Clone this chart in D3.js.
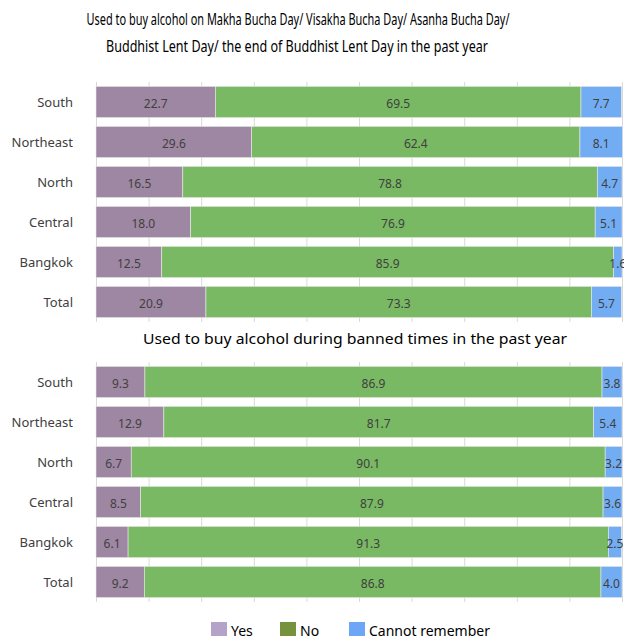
<!DOCTYPE html>
<html>
<head>
<meta charset="utf-8">
<script src="https://cdn.jsdelivr.net/npm/d3@7"></script>
<style>
  body { margin: 0; background: #fff; }
  text { font-family: "Noto Sans", "Open Sans", sans-serif; }
</style>
</head>
<body>
<div id="chartDiv"></div>
<script>
//----------------------------------------------------------------------------------------------------
// data
var regions = ["South", "Northeast", "North", "Central", "Bangkok", "Total"];
var seriesNames = ["Yes", "No", "Cannot remember"];

var holyDayYes    = [22.7, 29.6, 16.5, 18.0, 12.5, 20.9];
var holyDayNo     = [69.5, 62.4, 78.8, 76.9, 85.9, 73.3];
var holyDayCannot = [ 7.7,  8.1,  4.7,  5.1,  1.6,  5.7];

var bannedYes     = [ 9.3, 12.9,  6.7,  8.5,  6.1,  9.2];
var bannedNo      = [86.9, 81.7, 90.1, 87.9, 91.3, 86.8];
var bannedCannot  = [ 3.8,  5.4,  3.2,  3.6,  2.5,  4.0];

var xTicks = [0, 10, 20, 30, 40, 50, 60, 70, 80, 90, 100];

var barColors    = ["#9e87a2", "#79b963", "#72adf4"];
var legendColors = ["#b4a2c9", "#76923c", "#6ea6f7"];

//----------------------------------------------------------------------------------------------------
var width = 624, height = 636;
var svg = d3.select("#chartDiv").append("svg")
    .attr("width", width)
    .attr("height", height);

var xScale = d3.scaleLinear().domain([0, 100]).range([96, 622]);

//----------------------------------------------------------------------------------------------------
function buildRows(yes, no, cannot)
{
   return regions.map(function(r, i){
      return {region: r, values: [yes[i], no[i], cannot[i]]};
      });

} // buildRows
//----------------------------------------------------------------------------------------------------
function drawPanel(rows, top, bottom)
{
   var yScale = d3.scaleBand()
       .domain(regions)
       .range([top, bottom])
       .paddingInner(0.22)
       .paddingOuter(0.11);

   var g = svg.append("g");

      // vertical gridlines
   g.selectAll("line.grid")
      .data(xTicks)
      .enter()
      .append("line")
      .attr("class", "grid")
      .attr("x1", function(d){ return xScale(d) + 0.5; })
      .attr("x2", function(d){ return xScale(d) + 0.5; })
      .attr("y1", top)
      .attr("y2", bottom)
      .attr("stroke", "#d9d9d9")
      .attr("stroke-width", 1);

   var row = g.selectAll("g.row")
      .data(rows)
      .enter()
      .append("g")
      .attr("class", "row");

   row.each(function(d){
      var cum = 0;
      var segs = d.values.map(function(v, k){
         var s = {start: cum, value: v, k: k};
         cum += v;
         return s;
         });
      var rg = d3.select(this);
      var y0 = yScale(d.region);
      var bh = yScale.bandwidth();

      rg.selectAll("rect")
        .data(segs)
        .enter()
        .append("rect")
        .attr("x", function(s){ return xScale(s.start); })
        .attr("width", function(s){ return xScale(s.start + s.value) - xScale(s.start); })
        .attr("y", y0)
        .attr("height", bh)
        .attr("fill", function(s){ return barColors[s.k]; })
        .attr("stroke", "#e8e8e8")
        .attr("stroke-width", 0.6);

      rg.selectAll("text.val")
        .data(segs)
        .enter()
        .append("text")
        .attr("class", "val")
        .attr("x", function(s){ return xScale(s.start + s.value / 2); })
        .attr("y", y0 + bh / 2 + 6)
        .attr("text-anchor", "middle")
        .attr("font-size", 12)
        .attr("fill", "#404040")
        .text(function(s){ return s.value.toFixed(1); });
      });

      // category labels
   g.selectAll("text.cat")
      .data(regions)
      .enter()
      .append("text")
      .attr("class", "cat")
      .attr("x", 73)
      .attr("y", function(d){ return yScale(d) + yScale.bandwidth() / 2 + 5; })
      .attr("text-anchor", "end")
      .attr("font-size", 13)
      .attr("fill", "#404040")
      .text(function(d){ return d; });

} // drawPanel
//----------------------------------------------------------------------------------------------------
// titles
svg.append("text")
   .attr("x", 298).attr("y", 25)
   .attr("text-anchor", "middle")
   .attr("font-size", 16)
   .attr("textLength", 423)
   .attr("lengthAdjust", "spacingAndGlyphs")
   .attr("fill", "#000")
   .text("Used to buy alcohol on Makha Bucha Day/ Visakha Bucha Day/ Asanha Bucha Day/");

svg.append("text")
   .attr("x", 297).attr("y", 52)
   .attr("text-anchor", "middle")
   .attr("font-size", 15.5)
   .attr("textLength", 382)
   .attr("lengthAdjust", "spacingAndGlyphs")
   .attr("fill", "#000")
   .text("Buddhist Lent Day/ the end of Buddhist Lent Day in the past year");

drawPanel(buildRows(holyDayYes, holyDayNo, holyDayCannot), 82, 322);

svg.append("text")
   .attr("x", 355).attr("y", 344)
   .attr("text-anchor", "middle")
   .attr("font-size", 15)
   .attr("textLength", 424)
   .attr("lengthAdjust", "spacingAndGlyphs")
   .attr("fill", "#000")
   .text("Used to buy alcohol during banned times in the past year");

drawPanel(buildRows(bannedYes, bannedNo, bannedCannot), 362, 602);

//----------------------------------------------------------------------------------------------------
// legend
var legendX = [211, 280, 349];
var legend = svg.selectAll("g.legend")
   .data(seriesNames)
   .enter()
   .append("g")
   .attr("class", "legend")
   .attr("transform", function(d, i){ return "translate(" + legendX[i] + ",622)"; });

legend.append("rect")
   .attr("width", 16)
   .attr("height", 16)
   .attr("fill", function(d, i){ return legendColors[i]; });

legend.append("text")
   .attr("x", 20)
   .attr("y", 14)
   .attr("font-size", 14)
   .attr("fill", "#000")
   .text(function(d){ return d; });

</script>
</body>
</html>
